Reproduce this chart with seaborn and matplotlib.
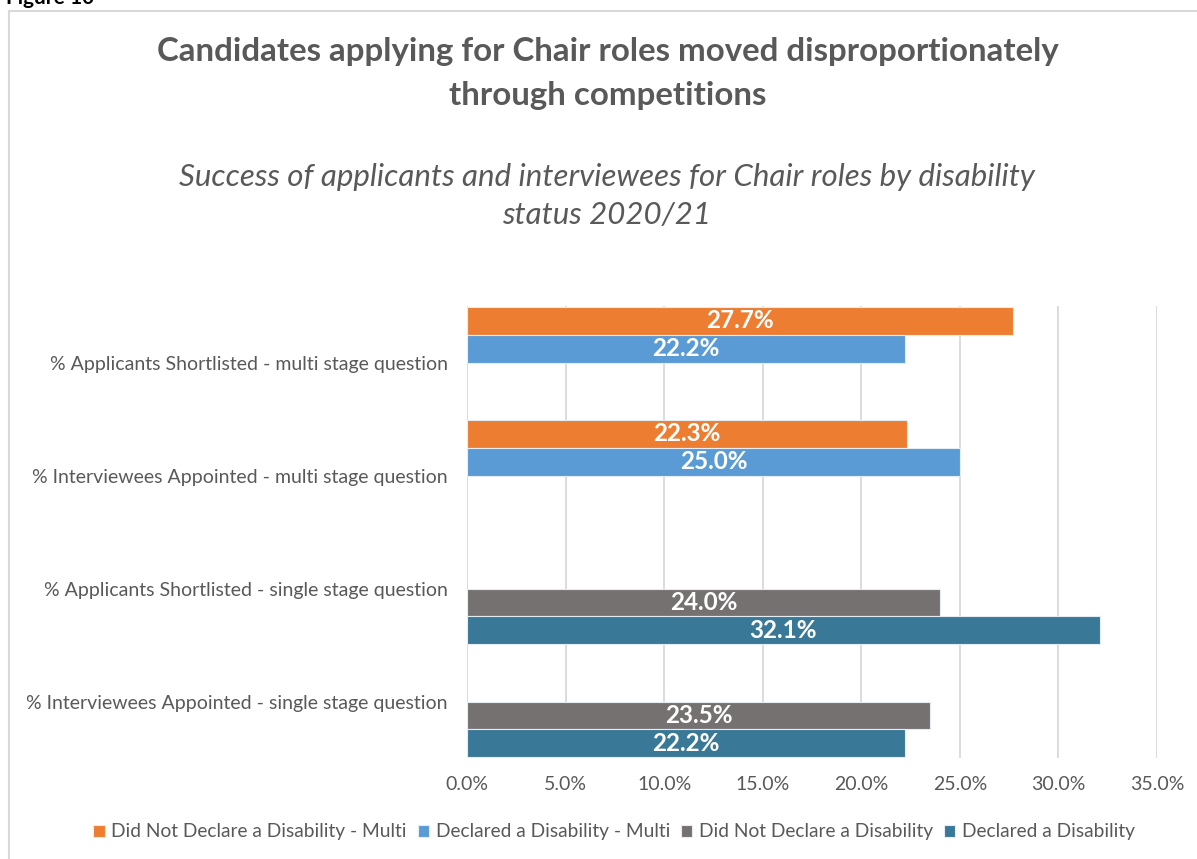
import matplotlib
matplotlib.use("Agg")
import matplotlib.pyplot as plt
from matplotlib.lines import Line2D
from matplotlib.ticker import FuncFormatter, MultipleLocator
import pandas as pd
import seaborn as sns

# ---- data -------------------------------------------------------------
categories = [
    "% Applicants Shortlisted - multi stage question",
    "% Interviewees Appointed - multi stage question",
    "% Applicants Shortlisted - single stage question",
    "% Interviewees Appointed - single stage question",
]
series_names = [
    "Did Not Declare a Disability - Multi",
    "Declared a Disability - Multi",
    "Did Not Declare a Disability",
    "Declared a Disability",
]
not_declared_multi = [27.7, 22.3, None, None]
declared_multi = [22.2, 25.0, None, None]
not_declared = [None, None, 24.0, 23.5]
declared = [None, None, 32.1, 22.2]

series_colors = ["#ED7D31", "#5B9BD5", "#767171", "#3A7897"]

rows = []
for name, values in zip(series_names,
                        [not_declared_multi, declared_multi, not_declared, declared]):
    for cat, v in zip(categories, values):
        if v is not None:
            rows.append({"category": cat, "series": name, "value": v})
df = pd.DataFrame(rows)

# ---- styling ----------------------------------------------------------
sns.set_theme(style="white")
plt.rcParams["font.family"] = ["Lato", "DejaVu Sans"]
TEXT = "#595959"

W, H = 1197, 859
fig = plt.figure(figsize=(W / 100, H / 100), dpi=100)

# chart frame (light grey border)
frame_kw = dict(color="#d9d9d9", linewidth=1.5, transform=fig.transFigure)
fig.add_artist(Line2D([9 / W, 1.0], [1 - 11 / H, 1 - 11 / H], **frame_kw))
fig.add_artist(Line2D([9 / W, 9 / W], [1 - 11 / H, 0.0], **frame_kw))

fig.text(6 / W, 1 - 4 / H, "Figure 10", fontsize=15, fontweight="bold",
         color="black", ha="left", va="baseline")

fig.text(608 / W, 1 - 52 / H, "Candidates applying for Chair roles moved disproportionately",
         fontsize=23.8, fontweight="bold", color=TEXT, ha="center", va="center")
fig.text(608 / W, 1 - 95 / H, "through competitions",
         fontsize=23.8, fontweight="bold", color=TEXT, ha="center", va="center")
fig.text(607 / W, 1 - 177 / H,
         "Success of applicants and interviewees for Chair roles by disability",
         fontsize=22.5, style="italic", color=TEXT, ha="center", va="center")
fig.text(607 / W, 1 - 215 / H, "status 2020/21",
         fontsize=22.5, style="italic", color=TEXT, ha="center", va="center")

ax = fig.add_axes([467 / W, 1 - 758 / H, (1157 - 467) / W, (758 - 306) / H])

sns.barplot(data=df, y="category", x="value", hue="series",
            order=categories, hue_order=series_names,
            palette=series_colors, saturation=1, orient="h", width=0.99,
            dodge=True, edgecolor="#e4ecf4", linewidth=0.8, ax=ax)

for container in ax.containers:
    ax.bar_label(container, labels=[f"{b.get_width():.1f}%" for b in container],
                 label_type="center", color="white", fontsize=17.5,
                 fontweight="bold")

ax.set_xlim(0, 35)
ax.set_ylim(3.5, -0.5)
ax.xaxis.set_major_locator(MultipleLocator(5))
ax.xaxis.set_major_formatter(FuncFormatter(lambda x, _: f"{x:.1f}%"))
ax.grid(axis="x", color="#d9d9d9", linewidth=1.3)
ax.set_axisbelow(True)
for s in ax.spines.values():
    s.set_visible(False)
ax.set_xlabel("")
ax.set_ylabel("")
ax.tick_params(axis="x", length=0, pad=13, labelsize=14, labelcolor=TEXT)
ax.tick_params(axis="y", length=0, pad=14, labelsize=14, labelcolor=TEXT)

handles, labels = ax.get_legend_handles_labels()
ax.get_legend().remove()
fig.legend(handles, labels, loc="center", bbox_to_anchor=(614 / W, 1 - 832 / H),
           ncol=4, frameon=False, fontsize=13.8, labelcolor=TEXT,
           handlelength=0.6, handleheight=0.6, handletextpad=0.35,
           columnspacing=0.55)

fig.savefig("out.png", dpi=100, facecolor="white")
